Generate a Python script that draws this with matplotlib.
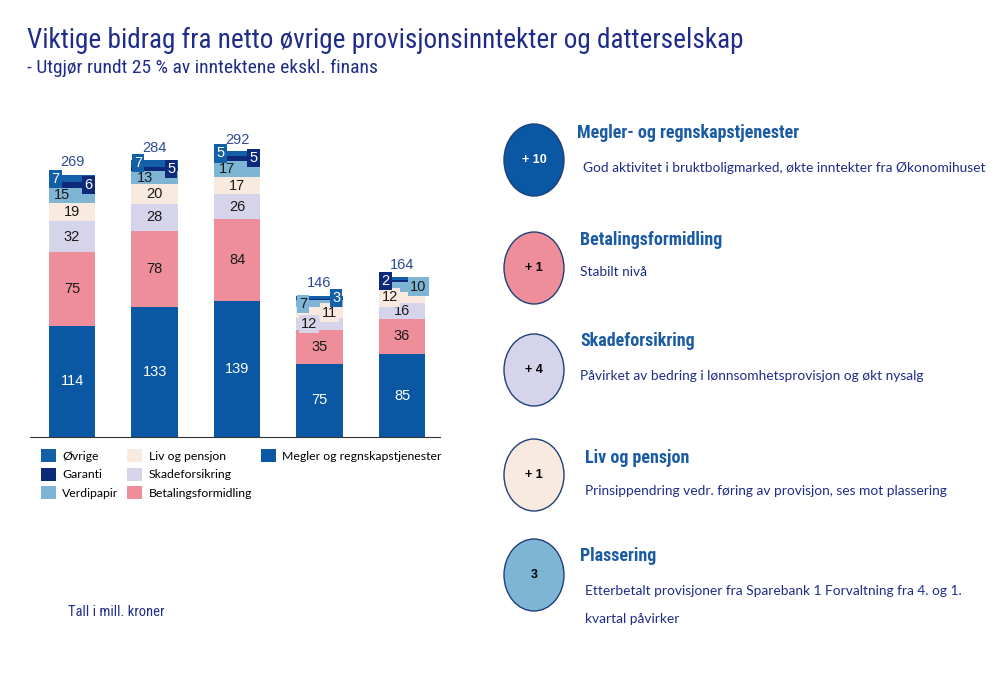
import matplotlib
matplotlib.use("Agg")
import matplotlib.pyplot as plt
import matplotlib.patches as patches
import numpy as np

body_font = ['Lato', 'DejaVu Sans']
title_font = ['Roboto Condensed', 'Asap Condensed', 'Liberation Sans Narrow', 'Roboto']
plt.rcParams['font.family'] = body_font

# stacked series, bottom to top
series = ["Megler og regnskapstjenester", "Betalingsformidling", "Skadeforsikring",
          "Liv og pensjon", "Verdipapir", "Garanti", "Øvrige"]
megler = [114, 133, 139, 75, 85]
betaling = [75, 78, 84, 35, 36]
skade = [32, 28, 26, 12, 16]
liv = [19, 20, 17, 11, 12]
verdipapir = [15, 13, 17, 7, 10]
garanti = [6, 5, 5, 1, 2]
ovrige = [7, 7, 5, 3, 3]
totals = [269, 284, 292, 146, 164]

colors = ["#0A58A3", "#EE8E9B", "#D5D4EA", "#F9EADF", "#7EB5D5", "#0D2A7A", "#1360A8"]
txt_colors = ["white", "#1a1a1a", "#1a1a1a", "#1a1a1a", "#1a1a1a", "white", "white"]

# right-hand commentary
headings = ["Megler- og regnskapstjenester", "Betalingsformidling", "Skadeforsikring",
            "Liv og pensjon", "Plassering"]
changes = ["+ 10", "+ 1", "+ 4", "+ 1", "3"]
notes = ["God aktivitet i bruktboligmarked, økte inntekter fra Økonomihuset",
         "Stabilt nivå",
         "Påvirket av bedring i lønnsomhetsprovisjon og økt nysalg",
         "Prinsippendring vedr. føring av provisjon, ses mot plassering",
         "Etterbetalt provisjoner fra Sparebank 1 Forvaltning fra 4. og 1.\nkvartal påvirker"]
circle_colors = ["#0A58A3", "#EE8E9B", "#D5D4EA", "#F9EADF", "#7EB5D5"]

data = [megler, betaling, skade, liv, verdipapir, garanti, ovrige]
x = np.arange(len(totals))

fig = plt.figure(figsize=(10, 6.85), dpi=100)
ax = fig.add_axes([0.03, 0.362, 0.41, 0.4277])

bottom = np.zeros(len(totals))
for vals, col, name in zip(data, colors, series):
    ax.bar(x, vals, 0.56, bottom=bottom, color=col, label=name, edgecolor="none")
    bottom += np.array(vals)

# thin segments get offset, boxed labels: (series index, bar index) -> x offset
boxed = {(6, 0): -0.2, (5, 0): 0.2, (6, 1): -0.2, (5, 1): 0.2,
         (6, 2): -0.2, (5, 2): 0.2, (4, 3): -0.2, (6, 3): 0.2,
         (5, 4): -0.2, (4, 4): 0.2, (3, 3): 0.12, (2, 3): -0.13, (3, 4): -0.15}
shifted = {(4, 0): -0.12, (4, 1): -0.12, (4, 2): -0.12}
skip = {(5, 3), (6, 4)}
fs = 10.5
lab_font = ['Liberation Sans', 'DejaVu Sans']
bottom = np.zeros(len(totals))
for si, vals in enumerate(data):
    for bi, v in enumerate(vals):
        yc = bottom[bi] + v / 2
        if (si, bi) in skip:
            continue
        if (si, bi) in boxed:
            ax.text(x[bi] + boxed[(si, bi)], yc, str(v), ha="center", va="center",
                    fontsize=fs, color=txt_colors[si], family=lab_font,
                    bbox=dict(boxstyle="square,pad=0.15", fc=colors[si], ec="none"))
        else:
            ax.text(x[bi] + shifted.get((si, bi), 0), yc, str(v), ha="center",
                    va="center", fontsize=fs, color=txt_colors[si], family=lab_font)
    bottom += np.array(vals)

for bi, t in enumerate(totals):
    ax.text(x[bi], t + 5, str(t), ha="center", va="bottom", fontsize=fs,
            color="#2B4A96", family=lab_font)

ax.set_xlim(-0.51, 4.46)
ax.set_ylim(0, 300)
for s in ["top", "right", "left"]:
    ax.spines[s].set_visible(False)
ax.spines["bottom"].set_color("#333333")
ax.set_xticks([])
ax.set_yticks([])

h, l = ax.get_legend_handles_labels()
blank = patches.Patch(visible=False)
order = [6, 5, 4, 3, 2, 1, 0]
handles = [h[i] for i in order] + [blank, blank]
labels = [l[i] for i in order] + ["", ""]
ax.legend(handles, labels, ncol=3, loc="upper left",
          bbox_to_anchor=(0.0, -0.005), frameon=False, fontsize=8.8,
          handlelength=1.25, handleheight=1.25, handletextpad=0.5,
          columnspacing=0.7, labelspacing=0.45)

# overlay in pixel coordinates for titles and commentary
ov = fig.add_axes([0, 0, 1, 1])
ov.set_xlim(0, 1000)
ov.set_ylim(685, 0)
ov.axis("off")

navy = "#1F2D8A"
head_blue = "#1B5BA3"
ov.text(27, 40, "Viktige bidrag fra netto øvrige provisjonsinntekter og datterselskap",
        fontsize=19.6, color=navy, va="center", family=title_font)
ov.text(27, 68, "- Utgjør rundt 25 % av inntektene ekskl. finans",
        fontsize=14, color=navy, va="center", family=title_font)
ov.text(68, 612, "Tall i mill. kroner", fontsize=10.5, color=navy, va="center",
        family=title_font)

circ_y = [160, 268, 370, 475, 575]
head_pos = [(577, 133), (580, 240), (580, 341), (585, 458), (580, 556)]
note_pos = [(583, 168), (580, 272), (580, 376), (585, 491), (585, 605)]
for i in range(len(headings)):
    ov.add_patch(patches.Ellipse((534, circ_y[i]), 60, 72, fc=circle_colors[i],
                                 ec="#1F3F7A", lw=1))
    ov.text(534, circ_y[i], changes[i], ha="center", va="center", fontsize=9,
            fontweight="bold", color="white" if i == 0 else "black",
            family=lab_font)
    ov.text(head_pos[i][0], head_pos[i][1], headings[i], fontsize=13, fontweight="bold",
            color=head_blue, va="center", family=title_font)
    ov.text(note_pos[i][0], note_pos[i][1], notes[i], fontsize=9.9, color=navy,
            va="center", linespacing=2.55)

fig.savefig("out.png", dpi=100)
